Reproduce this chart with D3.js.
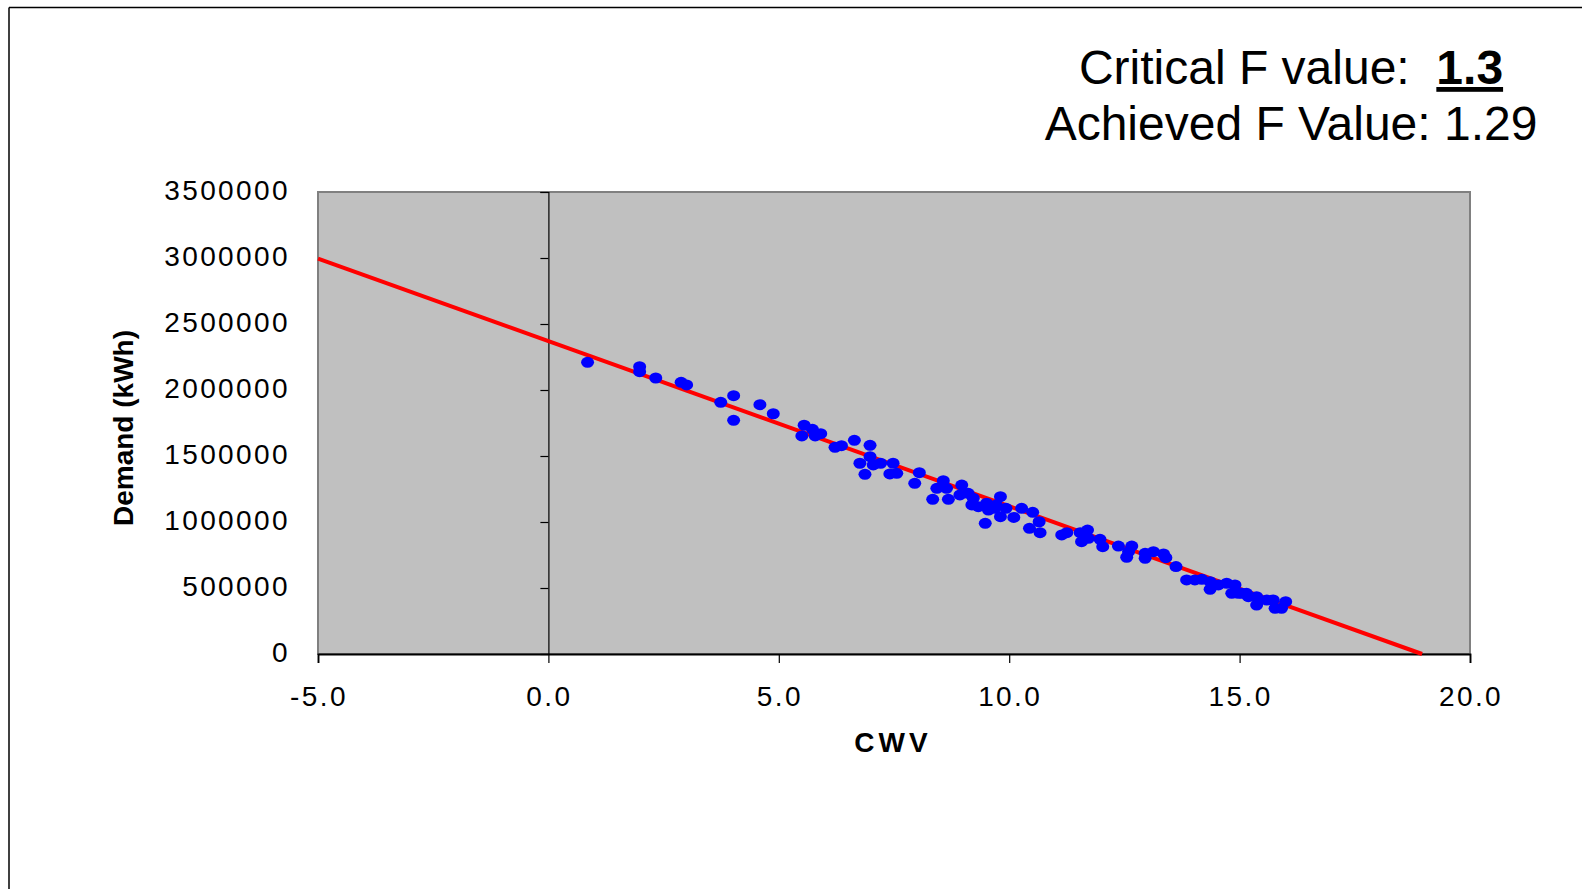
<!DOCTYPE html>
<html>
<head>
<meta charset="utf-8">
<script src="https://cdn.jsdelivr.net/npm/d3@7"></script>
<style>
  html, body { margin: 0; padding: 0; background: #fff; }
  svg { display: block; font-family: Arial, "Liberation Sans", Helvetica, sans-serif; }
  .tick-label { font-size: 28px; letter-spacing: 2.4px; fill: #000; }
</style>
</head>
<body>
<script>
// CWV (x) and demand in kWh (y)
const cwv = [0.85, 1.98, 1.98, 2.33, 2.88, 3.00, 3.74, 4.02, 4.02, 4.59,
  4.88, 5.55, 5.50, 5.73, 5.91, 5.79, 6.22, 6.36, 6.64, 6.98,
  6.98, 6.76, 6.87, 7.05, 7.21, 7.48, 7.56, 7.41, 8.05, 7.95,
  8.57, 8.43, 8.64, 8.34, 8.68, 8.97, 8.93, 9.11, 9.19, 9.33,
  9.51, 9.55, 9.69, 9.81, 9.93, 9.81, 9.48, 10.10, 10.27, 10.51,
  10.65, 10.44, 10.67, 11.14, 11.25, 11.54, 11.70, 11.57, 11.72, 11.97,
  12.03, 12.37, 12.66, 12.55, 12.59, 12.95, 12.95, 13.13, 13.35, 13.40,
  13.62, 13.85, 14.03, 14.18, 14.36, 14.36, 14.54, 14.72, 14.90, 14.83,
  14.97, 15.15, 15.37, 15.37, 15.59, 15.73, 15.77, 15.91, 16.00, 15.19,
  15.05, 9.22, 9.72];
const demand = [2210000, 2177000, 2139000, 2091000, 2058000, 2038000, 1907000, 1957000, 1770000, 1889000,
  1820000, 1733000, 1652000, 1702000, 1669000, 1652000, 1566000, 1578000, 1619000, 1581000,
  1495000, 1445000, 1361000, 1432000, 1445000, 1445000, 1369000, 1364000, 1374000, 1293000,
  1313000, 1255000, 1255000, 1172000, 1172000, 1280000, 1205000, 1217000, 1129000, 1116000,
  1142000, 1091000, 1104000, 1192000, 1104000, 1040000, 990000, 1035000, 1104000, 1073000,
  1002000, 952000, 919000, 902000, 919000, 919000, 939000, 851000, 876000, 869000,
  813000, 818000, 818000, 733000, 775000, 763000, 725000, 775000, 758000, 730000,
  662000, 561000, 561000, 566000, 548000, 490000, 523000, 536000, 523000, 460000,
  460000, 460000, 434000, 371000, 409000, 409000, 346000, 346000, 396000, 434000,
  460000, 1180000, 1129000];

// fitted line end points
const trendX = [-5, 18.96];
const trendY = [2995000, 0];

const xTicks = [-5, 0, 5, 10, 15, 20];
const yTicks = [0, 500000, 1000000, 1500000, 2000000, 2500000, 3000000, 3500000];

const W = 1582, H = 889;
const plot = { left: 318, right: 1470, top: 192, bottom: 654 };

const svg = d3.select("body").append("svg")
  .attr("width", W)
  .attr("height", H);

// outer frame (left and top edges only are visible)
svg.append("line").attr("x1", 9).attr("x2", 9).attr("y1", 7.5).attr("y2", H)
  .attr("stroke", "#000").attr("stroke-width", 1.5);
svg.append("line").attr("x1", 9).attr("x2", W).attr("y1", 7.5).attr("y2", 7.5)
  .attr("stroke", "#000").attr("stroke-width", 1.5);

const x = d3.scaleLinear().domain([-5, 20]).range([plot.left, plot.right]);
const y = d3.scaleLinear().domain([0, 3500000]).range([plot.bottom, plot.top]);

// plot area
svg.append("rect")
  .attr("x", plot.left)
  .attr("y", plot.top)
  .attr("width", plot.right - plot.left)
  .attr("height", plot.bottom - plot.top)
  .attr("fill", "#c0c0c0")
  .attr("stroke", "#808080")
  .attr("stroke-width", 2);

// y axis sits on x = 0, labels at the left of the plot
const yAxisG = svg.append("g")
  .attr("transform", `translate(${x(0)},0)`)
  .call(d3.axisLeft(y).tickValues(yTicks).tickSize(8).tickFormat(""));
yAxisG.select(".domain").attr("stroke", "#000").attr("stroke-width", 1.2);
yAxisG.selectAll(".tick line").attr("stroke", "#000").attr("stroke-width", 1.2);

svg.selectAll(".y-label")
  .data(yTicks)
  .enter()
  .append("text")
  .attr("class", "tick-label y-label")
  .attr("x", 290)
  .attr("y", d => y(d))
  .attr("dy", "0.3em")
  .attr("text-anchor", "end")
  .text(d => d);

// x axis
const xAxisG = svg.append("g")
  .attr("transform", `translate(0,${plot.bottom})`)
  .call(d3.axisBottom(x).tickValues(xTicks).tickSize(9).tickFormat(""));
xAxisG.select(".domain").attr("stroke", "#000").attr("stroke-width", 1.8);
xAxisG.selectAll(".tick line").attr("stroke", "#000").attr("stroke-width", 1.2);

svg.selectAll(".x-label")
  .data(xTicks)
  .enter()
  .append("text")
  .attr("class", "tick-label x-label")
  .attr("x", d => x(d) + 1)
  .attr("y", 706)
  .attr("text-anchor", "middle")
  .text(d => d3.format(".1f")(d).replace("\u2212", "-"));

// trend line
svg.append("line")
  .attr("x1", x(trendX[0]))
  .attr("y1", y(trendY[0]))
  .attr("x2", x(trendX[1]))
  .attr("y2", y(trendY[1]))
  .attr("stroke", "#ff0000")
  .attr("stroke-width", 4);

// points
svg.selectAll(".pt")
  .data(cwv.map((c, i) => [c, demand[i]]))
  .enter()
  .append("ellipse")
  .attr("class", "pt")
  .attr("cx", d => x(d[0]))
  .attr("cy", d => y(d[1]))
  .attr("rx", 6.5)
  .attr("ry", 5.5)
  .attr("fill", "#0000ff");

// axis titles
svg.append("text")
  .attr("x", 893)
  .attr("y", 752)
  .attr("text-anchor", "middle")
  .attr("font-size", 28)
  .attr("font-weight", "bold")
  .attr("letter-spacing", 4)
  .text("CWV");

svg.append("text")
  .attr("transform", "translate(133,428)rotate(-90)")
  .attr("text-anchor", "middle")
  .attr("font-size", 28)
  .attr("font-weight", "bold")
  .text("Demand (kWh)");

// F values at the top right
const t1 = svg.append("text")
  .attr("x", 1291)
  .attr("y", 84)
  .attr("text-anchor", "middle")
  .attr("font-size", 48);
t1.append("tspan").text("Critical F value:\u00a0 ");
t1.append("tspan").attr("font-weight", "bold").attr("text-decoration", "underline").text("1.3");

svg.append("text")
  .attr("x", 1291)
  .attr("y", 140)
  .attr("text-anchor", "middle")
  .attr("font-size", 48)
  .text("Achieved F Value: 1.29");
</script>
</body>
</html>
